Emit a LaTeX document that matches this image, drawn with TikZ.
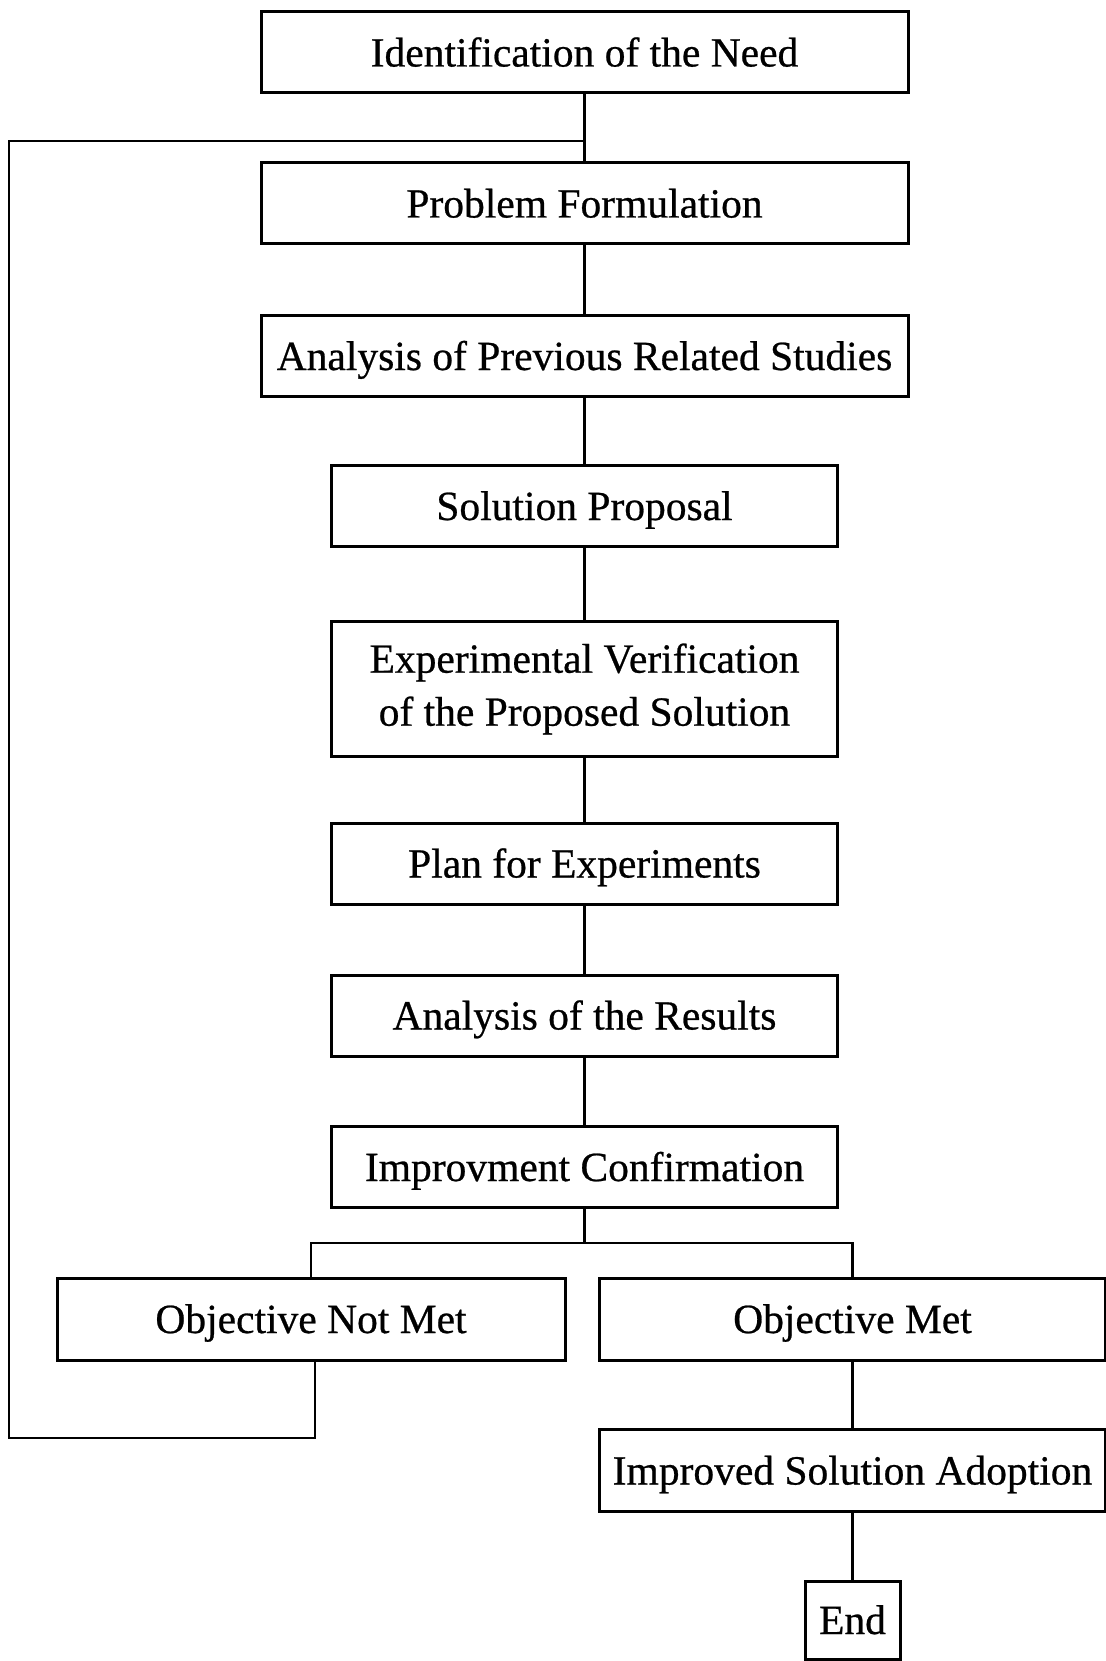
\documentclass[tikz,border=0pt]{standalone}
\usepackage{fontspec}
\setmainfont{Liberation Serif}
\newfontfamily\labelfont{Liberation Serif}[FakeBold=0.6]
\begin{document}
\begin{tikzpicture}[x=1pt,y=-1pt,
  boxbase/.style={draw=black, line width=3pt, inner sep=0pt, align=center,
    font=\labelfont\fontsize{41.5pt}{53pt}\selectfont},
  box/.style={boxbase, text height=28pt, text depth=0pt},
  wide/.style={minimum width=647pt, minimum height=81pt},
  mid/.style={minimum width=506pt, minimum height=81pt},
  side/.style={minimum width=506pt, minimum height=82pt},
  conn/.style={draw=black, line width=2.6pt, line join=miter}]
\useasboundingbox (0,0) rectangle (1105,1661);
\fill[white] (0,0) rectangle (1105,1661);

% main column
\node[box, wide] (need)  at (584.5,52.5)  {Identification of the Need};
\node[box, wide] (prob)  at (584.5,203.5) {Problem Formulation};
\node[box, wide] (prev)  at (584.5,356)   {Analysis of Previous Related Studies};
\node[box, mid]  (sol)   at (584.5,506)   {Solution Proposal};
\node[boxbase, minimum width=506pt, minimum height=135pt] (verif) at (584.5,689)
  {Experimental Verification\\of the Proposed Solution};
\node[box, mid]  (plan)  at (584.5,863.5) {Plan for Experiments};
\node[box, mid]  (res)   at (584.5,1015.5){Analysis of the Results};
\node[box, mid]  (conf)  at (584.5,1167)  {Improvment Confirmation};

% outcomes
\node[box, minimum width=508pt, minimum height=82pt] (notmet) at (311,1319) {Objective Not Met};
\node[box, side] (met)   at (852.5,1319)  {Objective Met};
\node[box, side] (adopt) at (852.5,1470.5){Improved Solution Adoption};
\node[box, minimum width=95pt, minimum height=78pt] (fin) at (852.5,1620) {End};

% straight chain
\draw[conn] (need) -- (prob);
\draw[conn] (prob) -- (prev);
\draw[conn] (prev) -- (sol);
\draw[conn] (sol) -- (verif);
\draw[conn] (verif) -- (plan);
\draw[conn] (plan) -- (res);
\draw[conn] (res) -- (conf);

% split into the two outcomes
\coordinate (split) at (584.5,1243);
\draw[conn] (conf.south) -- (split);
\draw[conn] (notmet.north) -- (notmet.north |- split) -- (met.north |- split) -- (met.north);
\draw[conn] (met) -- (adopt);
\draw[conn] (adopt) -- (fin);

% feedback loop back to problem formulation
\coordinate (loopbot) at (9,1438);
\coordinate (looptop) at (9,141);
\coordinate (rejoin) at (584.5,141);
\draw[conn] ([xshift=4pt]notmet.south) |- (loopbot) -- (looptop) -- (rejoin);
\end{tikzpicture}
\end{document}
